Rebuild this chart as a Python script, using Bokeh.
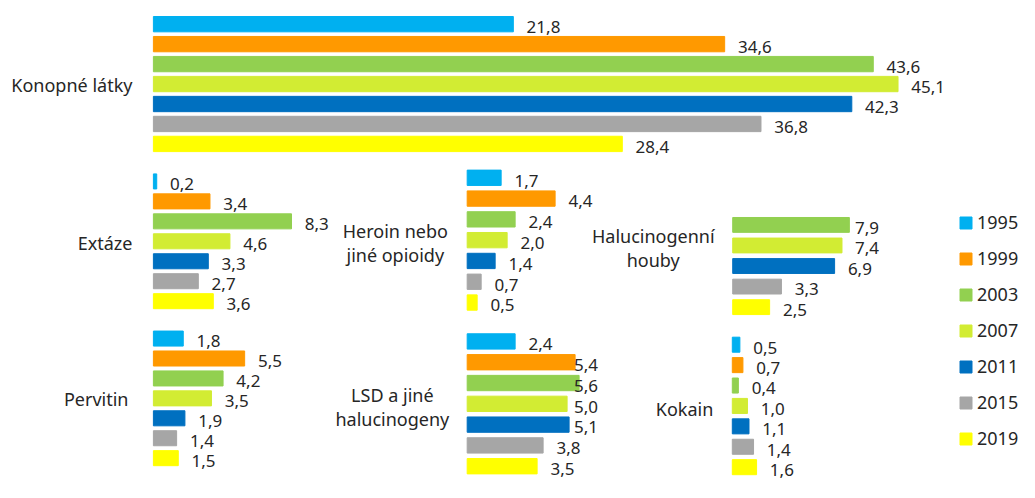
from bokeh.plotting import figure
from bokeh.models import Range1d, ColumnDataSource, Legend, LegendItem
from bokeh.core.properties import value
from bokeh.embed import file_html
from bokeh.resources import INLINE

years = ["1995", "1999", "2003", "2007", "2011", "2015", "2019"]
colors = ["#00B0F0", "#FF9900", "#92D050", "#D2EC33", "#0070C0", "#A6A6A6", "#FFFF00"]

konopne = [21.8, 34.6, 43.6, 45.1, 42.3, 36.8, 28.4]
extaze = [0.2, 3.4, 8.3, 4.6, 3.3, 2.7, 3.6]
heroin = [1.7, 4.4, 2.4, 2.0, 1.4, 0.7, 0.5]
houby = [None, None, 7.9, 7.4, 6.9, 3.3, 2.5]
pervitin = [1.8, 5.5, 4.2, 3.5, 1.9, 1.4, 1.5]
lsd = [2.4, 5.4, 5.6, 5.0, 5.1, 3.8, 3.5]
kokain = [0.5, 0.7, 0.4, 1.0, 1.1, 1.4, 1.6]

categories = ["Konopné látky", "Extáze", "Heroin nebo\njiné opioidy",
              "Halucinogenní\nhouby", "Pervitin", "LSD a jiné\nhalucinogeny", "Kokain"]
series = [konopne, extaze, heroin, houby, pervitin, lsd, kokain]

# panel layout in reference-canvas pixels: zero line x, px per unit,
# first bar centre y, bar pitch, bar height, label anchor x/align/dy, max label start x
panels = [
    dict(x0=155.3, s=16.77, y0=24.7, dy=20.83, bh=16.0, lx=134, la="right", ldy=1, lmax=None),
    dict(x0=155.3, s=16.9, y0=188.8, dy=20.83, bh=15.7, lx=134, la="right", ldy=2, lmax=None),
    dict(x0=474.0, s=20.3, y0=185.0, dy=21.7, bh=16.0, lx=401, la="center", ldy=3, lmax=None),
    dict(x0=743.7, s=15.0, y0=191.3, dy=21.45, bh=15.5, lx=663, la="center", ldy=3, lmax=868),
    dict(x0=155.3, s=16.85, y0=352.8, dy=20.8, bh=15.7, lx=130, la="right", ldy=1, lmax=None),
    dict(x0=474.0, s=20.3, y0=355.8, dy=21.7, bh=16.0, lx=398, la="center", ldy=3, lmax=582.5),
    dict(x0=743.3, s=15.4, y0=359.2, dy=21.3, bh=15.7, lx=724, la="right", ldy=3, lmax=None),
]

RW, RH = 1035, 503          # reference canvas (a little extra room at the bottom)
W, H = 1019, 482            # figure size that fits the window
SX, SY = W / RW, H / RH
FONT = "Noto Sans"
TXT = "#262626"
GAP = 13.5

p = figure(width=W, height=H, output_backend="svg", toolbar_location=None,
           x_axis_type=None, y_axis_type=None, min_border=0,
           x_range=Range1d(0, 1), y_range=Range1d(0, 1))
p.outline_line_color = None
p.xgrid.visible = False
p.ygrid.visible = False

top_renderer = None
for k, (cat, vals, lay) in enumerate(zip(categories, series, panels)):
    xn, yn = f"x{k}", f"y{k}"
    s, dy = lay["s"], lay["dy"]
    p.extra_x_ranges[xn] = Range1d(-lay["x0"] / s, (RW - lay["x0"]) / s)
    p.extra_y_ranges[yn] = Range1d((RH - lay["y0"]) / dy, -lay["y0"] / dy)

    idx, v, c, lbl, lxs = [], [], [], [], []
    for i, val in enumerate(vals):
        if val is None:
            continue
        idx.append(i)
        v.append(val)
        c.append(colors[i])
        lbl.append(f"{val:.1f}".replace(".", ","))
        lx = val + GAP / s
        if lay["lmax"] is not None:
            lx = min(lx, (lay["lmax"] - lay["x0"]) / s)
        lxs.append(lx)
    src = ColumnDataSource(dict(y=idx, right=v, color=c, label=lbl, lx=lxs))
    r = p.hbar(y="y", left=0, right="right", height=lay["bh"] / dy, color="color",
               source=src, x_range_name=xn, y_range_name=yn)
    if k == 0:
        top_renderer = r
    p.text(x="lx", y="y", text="label", source=src, x_range_name=xn, y_range_name=yn,
           text_font=value(FONT), text_font_size="17px", text_color=TXT,
           text_baseline="middle", text_align="left", y_offset=3 * SY)
    p.text(x=[0], y=[3], text=[cat], x_range_name=xn, y_range_name=yn,
           x_offset=(lay["lx"] - lay["x0"]) * SX, y_offset=lay["ldy"] * SY,
           text_font=value(FONT), text_font_size="18px", text_color=TXT,
           text_baseline="middle", text_align=lay["la"], text_line_height=1.0)

items = [LegendItem(label=y, renderers=[top_renderer], index=i) for i, y in enumerate(years)]
ITEM_H = 24
legend = Legend(items=items,
                location=(int(round(972.8 * SX)), int(round(H - 457.3 * SY - ITEM_H / 2))),
                glyph_width=15, glyph_height=15, label_height=ITEM_H, spacing=12,
                label_standoff=4, padding=0, margin=0, border_line_color=None,
                background_fill_alpha=0, label_text_font=FONT, label_text_font_size="18px",
                label_text_color=TXT)
p.add_layout(legend)

open("out.html", "w").write(file_html(p, INLINE))
